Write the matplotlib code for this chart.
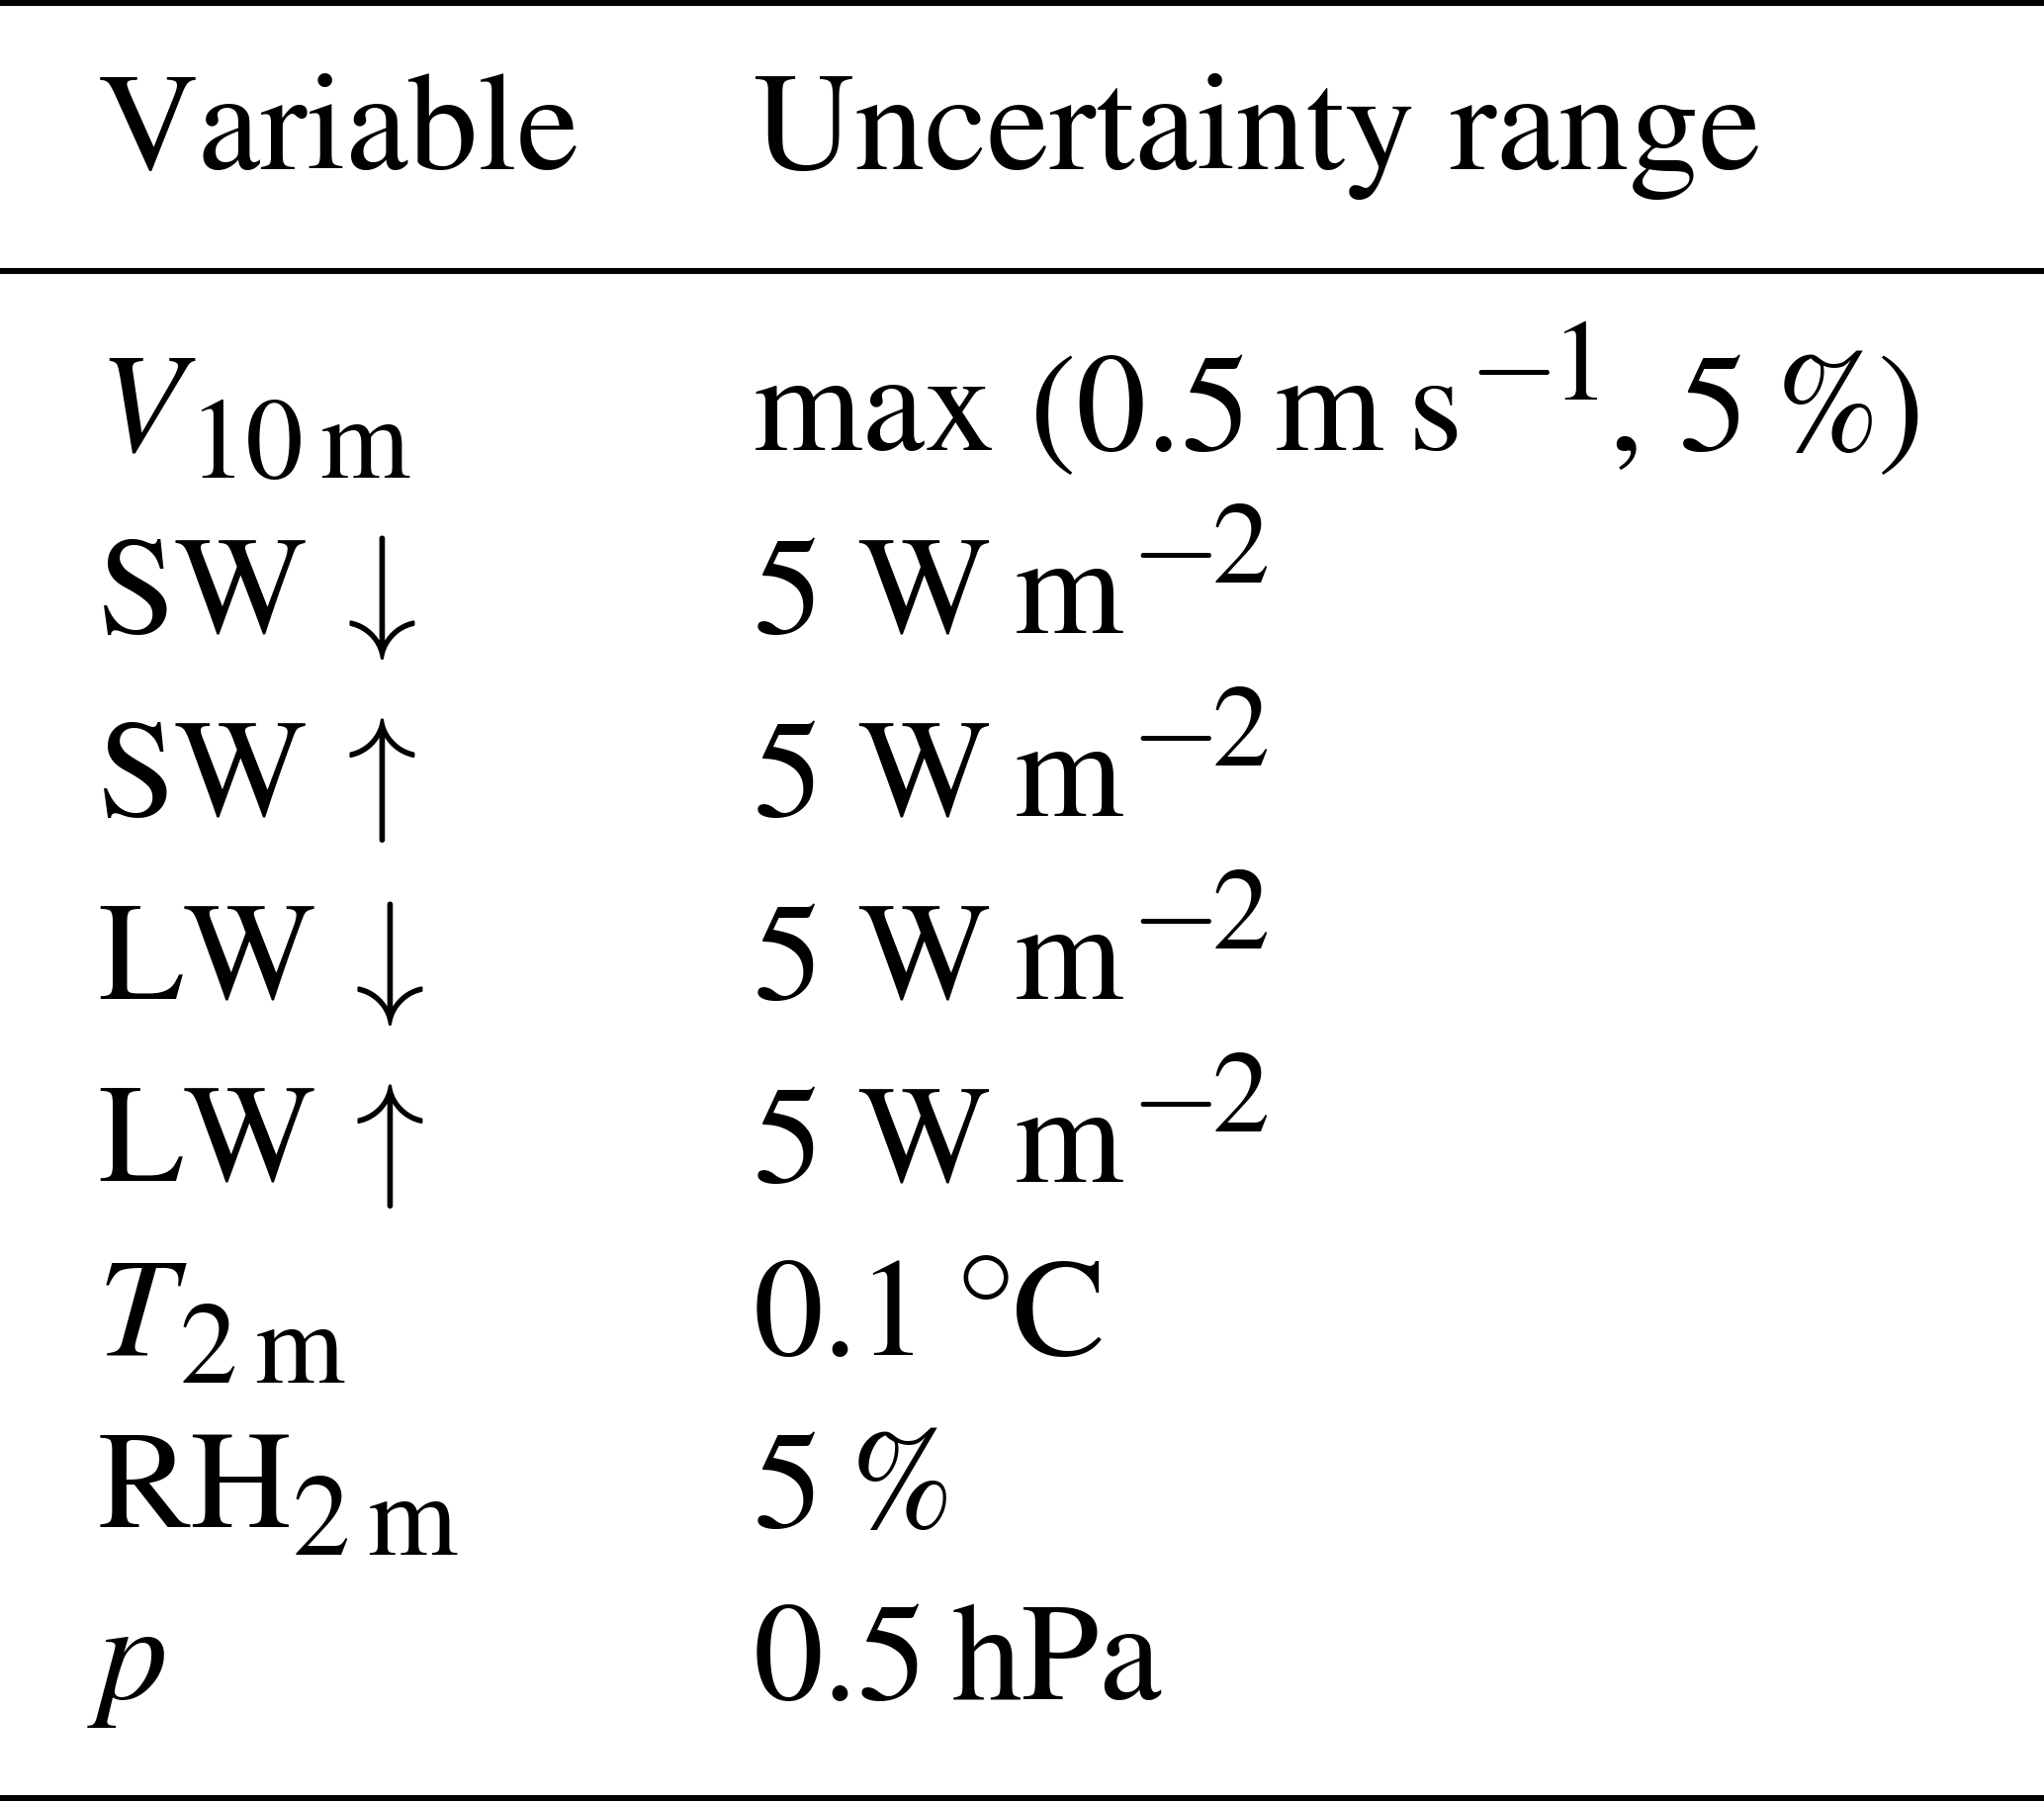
import matplotlib
matplotlib.use("Agg")
import matplotlib.pyplot as plt
from matplotlib.lines import Line2D

W, H = 2067, 1823
FS = 102     # main font size (pt)
SS = 84      # sub/superscript size (pt)
EM = FS * 100 / 72  # em in pixels

# table content: each cell is a list of (text, kind) runs
# kinds: n normal, i italic, sub, sup, m = TeX math symbol, msup, gap (em)
headers = ["Variable", "Uncertainty range"]
variables = [
    [("V", "i"), (0.03, "gap"), ("10", "sub"), (0.12, "gap"), ("m", "sub")],
    [("SW", "n"), (0.1, "gap"), (r"$\downarrow$", "m")],
    [("SW", "n"), (0.1, "gap"), (r"$\uparrow$", "m")],
    [("LW", "n"), (0.1, "gap"), (r"$\downarrow$", "m")],
    [("LW", "n"), (0.1, "gap"), (r"$\uparrow$", "m")],
    [("T", "i"), (0.03, "gap"), ("2", "sub"), (0.12, "gap"), ("m", "sub")],
    [("RH", "n"), ("2", "sub"), (0.12, "gap"), ("m", "sub")],
    [("p", "i")],
]
ranges = [
    [("max (0.5", "n"), (0.17, "gap"), ("m", "n"), (0.17, "gap"), ("s", "n"),
     (0.05, "gap"), (r"$-$", "msup"), ("1", "sup"), (", 5", "n"), (0.17, "gap"),
     ("%", "i"), (")", "n")],
    [("5 W", "n"), (0.17, "gap"), ("m", "n"), (0.05, "gap"), (r"$-$", "msup"), ("2", "sup")],
    [("5 W", "n"), (0.17, "gap"), ("m", "n"), (0.05, "gap"), (r"$-$", "msup"), ("2", "sup")],
    [("5 W", "n"), (0.17, "gap"), ("m", "n"), (0.05, "gap"), (r"$-$", "msup"), ("2", "sup")],
    [("5 W", "n"), (0.17, "gap"), ("m", "n"), (0.05, "gap"), (r"$-$", "msup"), ("2", "sup")],
    [("0.1", "n"), (0.2, "gap"), (r"$\circ$", "msup"), (0.02, "gap"), ("C", "n")],
    [("5", "n"), (0.17, "gap"), ("%", "i")],
    [("0.5", "n"), (0.17, "gap"), ("hPa", "n")],
]

col_x = [99, 762]
header_y = 171
row_y = [455, 640, 825, 1010, 1195, 1370, 1544, 1718]
rule_y = [3, 274, 1818]

fig = plt.figure(figsize=(W / 100, H / 100), dpi=100)
renderer = fig.canvas.get_renderer()
fam = ["STIXGeneral", "Liberation Serif", "DejaVu Serif"]


def put(x, y, runs):
    for text, kind in runs:
        if kind == "gap":
            x += text * EM
            continue
        size, dy, style = FS, 0, "normal"
        if kind == "i":
            style = "italic"
        elif kind == "sub":
            size, dy = SS, -28
        elif kind in ("sup", "msup"):
            size, dy = SS, 51
        t = fig.text(x / W, (H - y + dy) / H, text, fontsize=size,
                     fontstyle=style, family=fam, va="baseline", ha="left",
                     math_fontfamily="cm")
        x += t.get_window_extent(renderer).width


put(col_x[0], header_y, [(headers[0], "n")])
put(col_x[1], header_y, [(headers[1], "n")])
for y, var, rng in zip(row_y, variables, ranges):
    put(col_x[0], y, var)
    put(col_x[1], y, rng)

for y in rule_y:
    fig.add_artist(Line2D([0, 1], [1 - y / H, 1 - y / H], color="black",
                          lw=4.3, transform=fig.transFigure))

fig.savefig("out.png", dpi=100)
